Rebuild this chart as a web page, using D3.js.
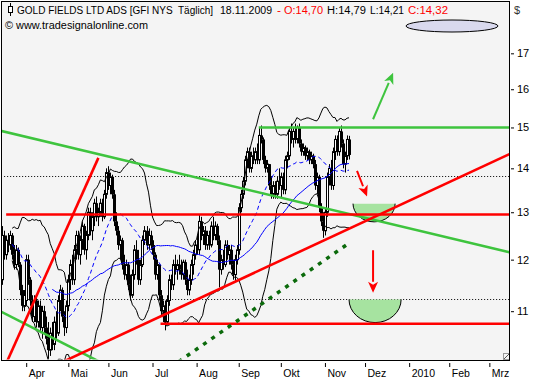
<!DOCTYPE html>
<html><head><meta charset="utf-8">
<script src="https://cdn.jsdelivr.net/npm/d3@7"></script>
<style>
body{margin:0;background:#fff}
svg{display:block}
text{font-family:"Liberation Sans",Arial,sans-serif;white-space:pre}
</style>
</head><body>
<svg id="c" width="533" height="380"></svg>
<script>
// ---------------- DATA ----------------
const title = "GOLD FIELDS LTD ADS [GFI NYS  Täglich]";
const copyright = "© www.tradesignalonline.com";
const currency = "$";
const holidays = ["2009-04-10","2009-05-25","2009-07-03","2009-09-07","2009-11-26","2009-12-25","2010-01-01"];
const firstBarDate = "2009-03-16";
const opens = [11.6,12.5,12.1,12.4,12.3,12.5,12.1,11.9,12.2,11.9,11.4,11.1,11.2,12.0,11.6,11.2,10.9,11.2,10.8,11.1,
10.7,11.0,10.7,10.5,10.3,10.6,10.4,10.8,10.6,11.2,11.4,10.9,10.7,11.1,11.6,11.9,11.6,12.2,12.5,12.1,
12.4,12.7,12.2,12.5,13.0,12.6,12.9,13.2,12.9,13.0,13.2,12.9,13.4,13.9,13.6,13.8,13.4,12.8,12.6,12.3,
12.4,11.9,11.7,11.9,11.5,11.3,11.7,12.2,12.0,11.6,11.9,12.4,12.6,12.3,12.5,12.3,12.1,11.7,11.9,11.3,
11.0,11.1,10.8,11.2,11.6,11.5,11.9,11.8,11.9,11.8,11.7,11.95,11.6,11.4,11.6,11.9,12.1,12.3,12.2,12.8,
12.5,12.6,12.3,12.5,12.3,12.7,12.5,12.7,12.4,11.8,12.0,11.9,12.3,12.1,12.2,11.9,11.7,12.0,12.2,13.1,
13.4,13.7,14.2,14.4,14.0,14.3,14.2,14.4,14.2,14.8,14.7,14.2,14.0,14.1,13.6,13.4,13.6,13.4,13.7,13.6,
13.8,13.5,14.2,14.3,14.9,14.7,14.9,14.7,15.0,14.6,14.4,14.5,14.3,14.4,14.2,14.3,14.1,13.6,13.8,13.1,
12.8,12.6,13.0,13.8,14.0,13.6,14.4,14.7,14.4,14.9,14.6,14.1,14.3,14.70];
const highs = [12.7,12.6,12.5,12.55,12.6,12.55,12.3,12.3,12.25,11.95,11.5,11.4,12.1,12.1,11.65,11.3,11.3,11.3,11.2,11.2,
11.1,11.1,10.9,10.8,10.7,10.8,10.9,11.0,11.3,11.5,11.45,11.0,11.2,11.7,12.0,12.1,12.3,12.6,12.6,12.5,
12.8,12.75,12.6,13.1,13.1,13.0,13.3,13.35,13.1,13.3,13.3,13.5,14.0,14.05,13.9,13.85,13.5,13.0,12.7,12.5,
12.45,12.1,12.0,11.95,11.7,11.8,12.3,12.4,12.2,12.0,12.5,12.7,12.7,12.65,12.6,12.4,12.15,12.0,11.9,11.4,
11.2,11.2,11.3,11.7,11.7,12.0,12.1,12.0,12.1,12.0,12.0,12.0,11.8,11.7,12.0,12.2,12.4,12.5,12.95,12.9,
12.7,12.7,12.6,12.6,12.8,12.9,12.8,12.75,12.5,12.1,12.2,12.4,12.4,12.3,12.3,12.0,12.1,12.3,13.2,13.5,
13.8,14.3,14.5,14.5,14.4,14.5,14.5,14.6,15.0,15.05,14.75,14.3,14.2,14.1,13.8,13.7,13.7,13.8,14.0,13.9,
13.9,14.3,14.4,15.0,15.1,15.0,15.1,15.05,15.1,14.7,14.6,14.55,14.5,14.45,14.4,14.35,14.2,13.9,13.85,13.2,
13.0,13.1,13.9,14.1,14.2,14.5,14.8,14.8,15.0,15.05,14.7,14.4,14.8,14.79];
const lows = [11.5,12.0,12.0,12.15,12.2,12.0,11.8,11.8,11.85,11.3,11.0,11.0,11.1,11.5,11.1,10.8,10.8,10.7,10.7,10.6,
10.5,10.6,10.4,10.15,10.2,10.3,10.3,10.5,10.55,11.0,10.8,10.55,10.6,11.0,11.4,11.5,11.5,12.0,12.0,11.9,
12.2,12.1,12.0,12.4,12.5,12.4,12.7,12.8,12.7,12.9,12.8,12.85,13.3,13.5,13.4,13.3,12.7,12.5,12.2,12.0,
11.8,11.6,11.6,11.4,11.2,11.25,11.6,11.9,11.5,11.5,11.85,12.3,12.2,12.2,12.2,12.0,11.6,11.6,11.2,10.9,
10.8,10.65,10.75,11.1,11.4,11.4,11.7,11.6,11.7,11.6,11.6,11.5,11.3,11.3,11.5,11.7,12.0,12.1,12.1,12.4,
12.3,12.2,12.2,12.2,12.25,12.4,12.4,12.3,11.45,11.7,11.8,11.85,12.0,11.9,11.8,11.6,11.55,11.9,12.1,13.0,
13.3,13.6,14.0,13.9,13.9,14.1,14.1,14.1,14.1,14.6,14.1,13.9,13.9,13.5,13.3,13.3,13.3,13.3,13.5,13.3,
13.4,13.4,14.0,14.2,14.6,14.5,14.6,14.6,14.5,14.3,14.3,14.2,14.2,14.1,14.1,14.0,13.5,13.4,13.0,12.7,
12.45,12.5,12.9,13.6,13.5,13.5,14.2,14.3,14.3,14.5,14.0,13.9,14.2,14.21];
const closes = [12.5,12.1,12.4,12.3,12.5,12.1,11.9,12.2,11.9,11.4,11.1,11.3,12.0,11.6,11.2,10.9,11.2,10.8,11.1,10.7,
11.0,10.7,10.5,10.3,10.6,10.4,10.8,10.6,11.2,11.4,10.9,10.7,11.1,11.6,11.9,11.6,12.2,12.5,12.1,12.4,
12.7,12.2,12.5,13.0,12.6,12.9,13.2,12.9,13.0,13.2,12.9,13.4,13.9,13.6,13.8,13.4,12.8,12.6,12.3,12.4,
11.9,11.7,11.9,11.5,11.3,11.7,12.2,12.0,11.6,11.9,12.4,12.6,12.3,12.5,12.3,12.1,11.7,11.9,11.3,11.0,
11.1,10.8,11.2,11.6,11.5,11.9,11.8,11.9,11.8,11.7,11.95,11.6,11.4,11.6,11.9,12.1,12.3,12.2,12.8,12.5,
12.6,12.3,12.5,12.3,12.7,12.5,12.7,12.4,11.8,12.0,11.9,12.3,12.1,12.2,11.9,11.7,12.0,12.2,13.1,13.4,
13.7,14.2,14.4,14.0,14.3,14.2,14.4,14.2,14.8,14.7,14.2,14.0,14.1,13.6,13.4,13.6,13.4,13.7,13.6,13.8,
13.5,14.2,14.3,14.9,14.7,14.9,14.7,15.0,14.6,14.4,14.5,14.3,14.4,14.2,14.3,14.1,13.6,13.8,13.1,12.8,
12.6,13.0,13.8,14.0,13.6,14.4,14.7,14.4,14.9,14.6,14.1,14.3,14.7,14.32];

const monthStarts = ["2009-04","2009-05","2009-06","2009-07","2009-08","2009-09","2009-10","2009-11","2009-12","2010-01","2010-02","2010-03"];
const monthLabels = ["Apr","Mai","Jun","Jul","Aug","Sep","Okt","Nov","Dez","2010","Feb","Mrz"];
const priceTicks = [11,12,13,14,15,16,17];

// drawn analysis objects (date, price)
const redLines = [
  [["2009-03-18",12.95],["2010-03-15",12.95]],
  [["2009-07-08",10.77],["2010-03-15",10.77]],
  [["2009-04-29",10.11],["2010-03-15",14.34]],
  [["2009-03-18",10.07],["2009-05-22",14.25]]
];
const greenLines = [
  [["2009-03-13",14.92],["2010-03-15",12.15]],
  [["2009-09-16",15.0],["2010-03-15",15.0]],
  [["2009-03-13",11.0],["2009-05-22",10.11]]
];
const projectionLine = [["2009-07-21",10.1],["2009-11-18",12.34]];
const dottedLevels = [13.82, 11.22];
const dottedFrom = "2009-03-17";
const redArrows = [
  [["2009-11-24",13.94],["2009-12-02",13.35]],
  [["2009-12-07",12.19],["2009-12-07",11.35]]
];
const greenArrows = [
  [["2009-12-07",15.21],["2009-12-21",16.45]]
];
const bowls = [
  {from:"2009-11-20", to:"2009-12-22", top:13.19, bottom:12.79},
  {from:"2009-11-18", to:"2009-12-28", top:11.22, bottom:10.79}
];
const maFastPeriod = 20, maSlowPeriod = 50, bbPeriod = 20, bbDev = 2;

// ---------------- LAYOUT ----------------
const plot = {left:1, right:510, top:1, bottom:360};
const svg = d3.select("#c");
svg.append("rect").attr("width",533).attr("height",380).attr("fill","#fff");
svg.append("rect").attr("x",plot.left).attr("y",plot.top)
  .attr("width",plot.right-plot.left).attr("height",plot.bottom-plot.top).attr("fill","#f4f4f4");
svg.append("defs").append("clipPath").attr("id","clip").append("rect")
  .attr("x",plot.left+0.5).attr("y",plot.top+0.5)
  .attr("width",plot.right-plot.left-1).attr("height",plot.bottom-plot.top-1);

// trading calendar
const calendar = [];
for (let d = new Date(Date.UTC(2009,2,2)); d <= new Date(Date.UTC(2010,3,30)); d.setUTCDate(d.getUTCDate()+1)) {
  const wd = d.getUTCDay(), s = d.toISOString().slice(0,10);
  if (wd>0 && wd<6 && !holidays.includes(s)) calendar.push(s);
}
const calIndex = s => calendar.findIndex(c => c >= s);
const i0 = calIndex(firstBarDate);
const barDates = calendar.slice(i0, i0 + closes.length);
const bars = barDates.map((d,k)=>({i:calIndex(d),o:opens[k],h:highs[k],l:lows[k],c:closes[k]}));

const xs = d3.scaleLinear().domain([i0-0.57, calIndex("2010-03-15")+0.3]).range([plot.left, plot.right]);
const ys = d3.scaleLog().domain([10.13, 18.57]).range([plot.bottom, plot.top]);
const P = ([d,p]) => [xs(calIndex(d)), ys(p)];

const g = svg.append("g").attr("clip-path","url(#clip)");

// dotted levels
g.selectAll(".lvl").data(dottedLevels).join("line")
  .attr("x1", xs(calIndex(dottedFrom))).attr("x2", plot.right)
  .attr("y1", d=>Math.round(ys(d))+0.5).attr("y2", d=>Math.round(ys(d))+0.5)
  .attr("stroke","#000").attr("stroke-width",1).attr("stroke-dasharray","1,2");

// candles
const cg = g.append("g");
cg.selectAll("line").data(bars).join("line")
  .attr("x1", d=>Math.round(xs(d.i))+0.5).attr("x2", d=>Math.round(xs(d.i))+0.5)
  .attr("y1", d=>ys(d.h)).attr("y2", d=>ys(d.l)).attr("stroke","#000");
cg.selectAll("rect").data(bars).join("rect")
  .attr("x", d=> d.c>=d.o ? Math.round(xs(d.i))-0.5 : Math.round(xs(d.i))-1)
  .attr("width", d=> d.c>=d.o ? 2 : 3)
  .attr("y", d=>ys(Math.max(d.o,d.c)))
  .attr("height", d=>Math.max(1, ys(Math.min(d.o,d.c))-ys(Math.max(d.o,d.c))))
  .attr("fill", d=> d.c>=d.o ? "#fff" : "#000")
  .attr("stroke", d=> d.c>=d.o ? "#000" : "none").attr("stroke-width",1);

// indicators
function windowVals(k,n){ return closes.slice(Math.max(0,k-n+1), k+1); }
const ind = bars.map((b,k)=>{
  const wf = windowVals(k,maFastPeriod), ws = windowVals(k,maSlowPeriod), wb = windowVals(k,bbPeriod);
  const mb = d3.mean(wb);
  const sd = Math.sqrt(d3.mean(wb, v=>(v-mb)*(v-mb)));
  return {i:b.i, k, fast:d3.mean(wf), slow:d3.mean(ws), up:mb+bbDev*sd, lo:mb-bbDev*sd};
});
const lineOf = key => d3.line().x(d=>xs(d.i)).y(d=>ys(d[key]));
const indA = ind.filter(d=>d.k>=5);
g.append("path").datum(indA).attr("d", lineOf("up")).attr("fill","none").attr("stroke","#000").attr("stroke-width",1);
g.append("path").datum(indA).attr("d", lineOf("lo")).attr("fill","none").attr("stroke","#000").attr("stroke-width",1);
g.append("path").datum(indA).attr("d", lineOf("fast")).attr("fill","none").attr("stroke","#0000ff").attr("stroke-width",1).attr("stroke-dasharray","4,3");
g.append("path").datum(ind.filter(d=>d.k>=25)).attr("d", lineOf("slow")).attr("fill","none").attr("stroke","#0000ff").attr("stroke-width",1);

// bowls
bowls.forEach(b=>{
  const x1 = xs(calIndex(b.from)), x2 = xs(calIndex(b.to));
  const yt = ys(b.top), yb = ys(b.bottom);
  const rx = (x2-x1)/2, ry = yb-yt;
  const arc = `M${x1},${yt} A${rx},${ry} 0 0 0 ${x2},${yt}`;
  g.append("path").attr("d", arc+" Z").attr("fill","#a6e3a0").attr("stroke","none");
  g.append("path").attr("d", arc).attr("fill","none").attr("stroke","#000").attr("stroke-width",1);
});

// trend lines
const seg = d3.line();
g.selectAll(".gl").data(greenLines).join("path").attr("d", d=>seg(d.map(P)))
  .attr("stroke","#3ec43e").attr("stroke-width",2.6).attr("fill","none");
g.selectAll(".rl").data(redLines).join("path").attr("d", d=>seg(d.map(P)))
  .attr("stroke","#ff0000").attr("stroke-width",2.6).attr("fill","none");
g.append("path").attr("d", seg(projectionLine.map(P)))
  .attr("stroke","#0b6a0b").attr("stroke-width",3.5).attr("stroke-dasharray","4,6").attr("fill","none");

// arrows
function arrow(a, color){
  const [x1,y1] = P(a[0]), [x2,y2] = P(a[1]);
  const dx = x2-x1, dy = y2-y1, L = Math.hypot(dx,dy), ux = dx/L, uy = dy/L;
  const hl = 11, hw = 5;
  const bx = x2-ux*hl, by = y2-uy*hl;
  g.append("line").attr("x1",x1).attr("y1",y1).attr("x2",bx).attr("y2",by)
    .attr("stroke",color).attr("stroke-width",2);
  g.append("path").attr("d",`M${x2},${y2} L${bx-uy*hw},${by+ux*hw} L${bx+ux*3},${by+uy*3} L${bx+uy*hw},${by-ux*hw} Z`)
    .attr("fill",color);
}
redArrows.forEach(a=>arrow(a,"#ff0000"));
greenArrows.forEach(a=>arrow(a,"#3ec43e"));

// header (separate text pieces)
const last = bars[bars.length-1];
const fmt = v => d3.format(".2f")(v).replace(".", ",");
const dateStr = barDates[barDates.length-1].split("-").reverse().join(".");
const headerParts = [
  {t:title, x:17, w:196, c:"#000"},
  {t:dateStr, x:220, w:52, c:"#000"},
  {t:"-", x:277, w:4, c:"#ff0000"},
  {t:`O:${fmt(last.o)}`, x:284, w:39, c:"#ff0000"},
  {t:`H:${fmt(last.h)}`, x:327, w:39, c:"#000"},
  {t:`L:${fmt(last.l)}`, x:370, w:34, c:"#000"},
  {t:`C:${fmt(last.c)}`, x:408, w:40, c:"#ff0000"}
];
svg.selectAll(".hdr").data(headerParts).join("text")
  .attr("x",d=>d.x).attr("y",14).attr("font-size",10).attr("fill",d=>d.c)
  .attr("textLength",d=>d.w).attr("lengthAdjust","spacingAndGlyphs").text(d=>d.t);
svg.append("text").attr("x",5).attr("y",29).attr("font-size",10.5)
  .attr("textLength",143).attr("lengthAdjust","spacingAndGlyphs").attr("fill","#000").text(copyright);
// header candle icon
svg.append("line").attr("x1",10.5).attr("x2",10.5).attr("y1",3).attr("y2",16).attr("stroke","#000");
svg.append("rect").attr("x",8.5).attr("y",6.5).attr("width",4).attr("height",6).attr("fill","#fff").attr("stroke","#000");
// decoration ellipse
svg.append("ellipse").attr("cx",452).attr("cy",26).attr("rx",46).attr("ry",6)
  .attr("fill","#d9d9ee").attr("stroke","#000").attr("stroke-width",1);

// resize corner mark
svg.append("rect").attr("x",503.5).attr("y",353.5).attr("width",6).attr("height",6).attr("fill","none").attr("stroke","#999");
svg.append("line").attr("x1",504).attr("y1",359).attr("x2",509).attr("y2",354).attr("stroke","#555");

// frame
svg.append("rect").attr("x",plot.left+0.5).attr("y",plot.top+0.5)
  .attr("width",plot.right-plot.left-1).attr("height",plot.bottom-plot.top)
  .attr("fill","none").attr("stroke","#000");

// axes
const monthIdx = monthStarts.map(m=>calIndex(m+"-01"));
const xAxis = d3.axisBottom(xs).tickValues(monthIdx).tickFormat((d,i)=>monthLabels[i]).tickSizeInner(4).tickSizeOuter(0);
const gx = svg.append("g").attr("transform",`translate(0,${plot.bottom+3})`).call(xAxis);
gx.select(".domain").remove();
gx.selectAll("line").attr("stroke","#000");
gx.selectAll("text").attr("text-anchor","start").attr("x",2).attr("y",7).attr("dy","0.71em")
  .attr("font-size",10.5).attr("font-family","Liberation Sans, Arial, sans-serif").attr("fill","#000");

const yAxis = d3.axisRight(ys).tickValues(priceTicks).tickFormat(d3.format("d")).tickSizeInner(3).tickSizeOuter(0);
const gy = svg.append("g").attr("transform",`translate(${plot.right+1},0)`).call(yAxis);
gy.select(".domain").remove();
gy.selectAll("line").attr("stroke","#000");
gy.selectAll("text").attr("x",6).attr("font-size",11).attr("font-family","Liberation Sans, Arial, sans-serif").attr("fill","#000");
svg.append("text").attr("x",514).attr("y",14).attr("font-size",11).attr("fill","#333").text(currency);
</script>
</body></html>
